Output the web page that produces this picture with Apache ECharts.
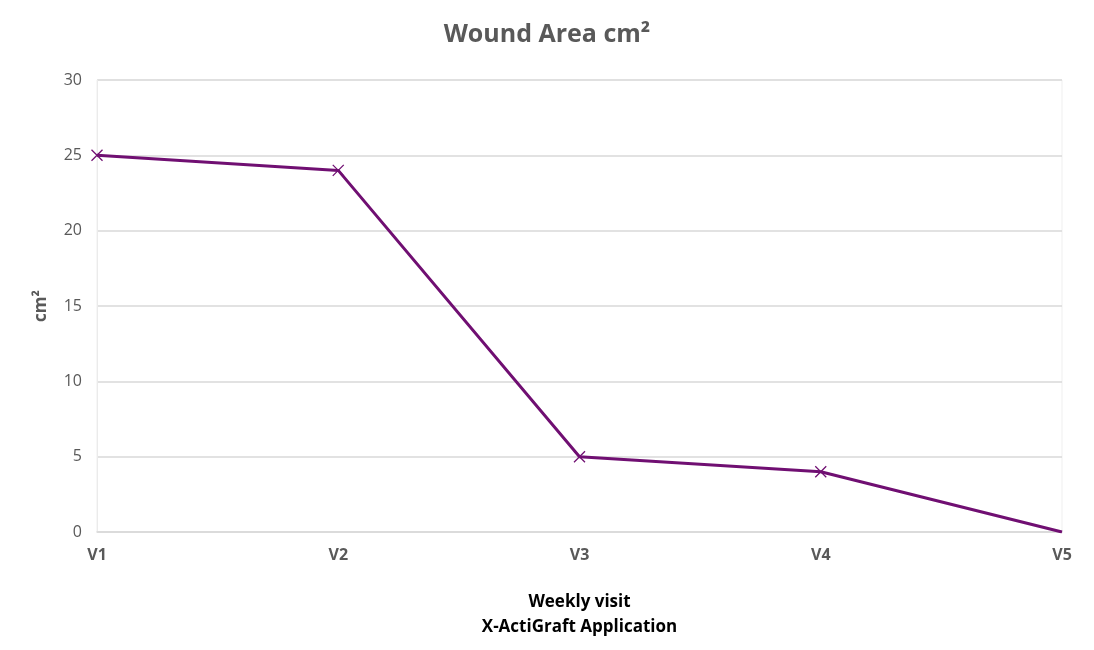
<!DOCTYPE html>
<html>
<head>
<meta charset="utf-8">
<script src="https://cdn.jsdelivr.net/npm/echarts@6/dist/echarts.min.js"></script>
<style>
  html, body { margin: 0; padding: 0; background: #fff; }
  #chart { width: 1094px; height: 650px; }
</style>
</head>
<body>
<div id="chart"></div>
<script>
// data
var visits = ['V1', 'V2', 'V3', 'V4', 'V5'];
var woundArea = [25, 24, 5, 4, 0];
var yTicks = [0, 5, 10, 15, 20, 25, 30];

var font = '"Open Sans", "Liberation Sans", sans-serif';
var purple = '#700f72';
var crossPath = 'path://M0,0L10,10M10,0L0,10';

var chart = echarts.init(document.getElementById('chart'));

// last point has no marker in the reference
var seriesData = woundArea.map(function (v, i) {
  return i === woundArea.length - 1 ? { value: v, symbol: 'none' } : v;
});

chart.setOption({
  animation: false,
  title: {
    text: 'Wound Area cm²',
    left: 'center',
    top: 17,
    textStyle: { fontFamily: font, fontSize: 25, fontWeight: 'bold', color: '#595959' }
  },
  grid: {
    left: 97, right: 32, top: 80, bottom: 118,
    show: true, borderColor: '#efefef', borderWidth: 1, backgroundColor: 'transparent'
  },
  xAxis: {
    type: 'category',
    data: visits,
    boundaryGap: false,
    axisLine: { show: true, lineStyle: { color: '#d9d9d9', width: 1.5 } },
    axisTick: { show: false },
    axisLabel: {
      fontFamily: font, fontSize: 16, fontWeight: 'bold', color: '#595959', margin: 15,
      alignMinLabel: 'center', alignMaxLabel: 'center'
    },
    splitLine: { show: false },
    name: 'Weekly visit\nX-ActiGraft Application',
    nameLocation: 'middle',
    nameGap: 58,
    nameTextStyle: { fontFamily: font, fontSize: 17, fontWeight: 'bold', color: '#000', lineHeight: 25 }
  },
  yAxis: {
    type: 'value',
    min: yTicks[0],
    max: yTicks[yTicks.length - 1],
    interval: yTicks[1] - yTicks[0],
    axisLine: { show: true, lineStyle: { color: '#ebebeb' } },
    axisTick: { show: false },
    axisLabel: { fontFamily: font, fontSize: 16, color: '#595959', margin: 15 },
    splitLine: { lineStyle: { color: '#d9d9d9', width: 1.5 } },
    name: 'cm²',
    nameLocation: 'middle',
    nameRotate: 90,
    nameGap: 47,
    nameTextStyle: { fontFamily: font, fontSize: 17, fontWeight: 'bold', color: '#595959' }
  },
  series: [{
    type: 'line',
    data: seriesData,
    symbol: crossPath,
    symbolSize: 11,
    lineStyle: { color: purple, width: 3 },
    itemStyle: { color: purple, borderColor: purple, borderWidth: 1.3 }
  }]
});
</script>
</body>
</html>
